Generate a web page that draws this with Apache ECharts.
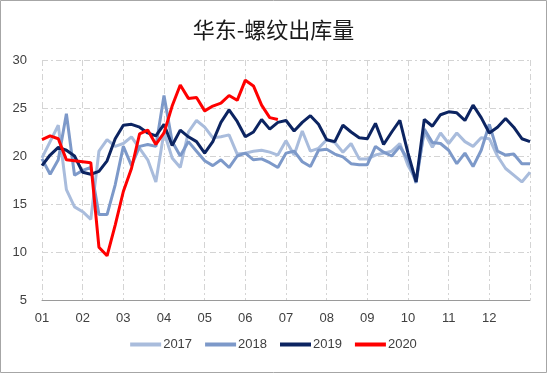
<!DOCTYPE html>
<html>
<head>
<meta charset="utf-8">
<script src="https://cdn.jsdelivr.net/npm/echarts@6/dist/echarts.min.js"></script>
<style>
html,body{margin:0;padding:0;background:#fff;}
#chart{width:547px;height:373px;}
</style>
</head>
<body>
<div id="chart"></div>
<script>
// Month tick labels
const months = ['01','02','03','04','05','06','07','08','09','10','11','12'];
// Sampling step in months for the series values below
const STEP = 0.2;
const seriesNames = ['2017','2018','2019','2020'];
const y2017 = [19.8,21.5,23.2,16.5,14.7,14.2,13.4,20.5,21.7,21.0,21.3,22.0,20.8,19.6,17.3,22.5,19.8,18.8,22.5,23.7,23.0,21.9,22.0,22.2,20.2,20.3,20.5,20.6,20.4,20.1,21.6,20.1,22.6,20.5,20.8,21.7,21.4,20.4,21.3,19.7,19.7,20.1,20.3,20.5,21.3,19.0,17.5,22.5,20.9,22.4,21.3,22.4,21.5,21.0,21.9,21.8,20.0,18.7,18.0,17.3,18.3];
const y2018 = [19.7,18.1,19.6,24.4,18.0,18.5,18.8,13.9,13.9,17.0,21.0,19.0,21.0,21.2,21.0,26.3,21.5,20.0,21.5,20.5,19.5,19.0,19.6,18.8,20.0,20.3,19.6,19.7,19.3,18.8,20.3,20.5,19.4,18.9,20.6,20.7,20.2,19.9,19.2,19.1,19.1,21.0,20.4,20.0,21.0,19.6,17.2,22.8,21.4,21.3,20.6,19.2,20.3,18.9,20.6,23.3,20.5,20.1,20.2,19.2,19.2];
const y2019 = [19.0,20.1,20.9,20.6,20.0,18.3,18.1,18.4,19.5,21.8,23.2,23.3,23.0,22.4,22.1,23.3,21.1,22.7,22.0,21.5,20.3,21.5,23.5,24.8,23.6,22.0,22.5,23.8,22.8,23.5,23.7,22.6,23.5,24.2,23.3,21.7,21.5,23.2,22.5,21.9,21.8,23.4,21.2,22.5,23.7,20.3,17.3,23.8,23.1,24.3,24.6,24.5,23.7,25.3,24.0,22.4,23.0,23.9,23.0,21.8,21.5];
const y2020 = [21.7,22.1,21.8,19.6,19.5,19.4,19.3,10.5,9.6,12.8,16.3,18.7,22.3,22.7,21.2,22.4,25.2,27.4,26.0,26.1,24.7,25.2,25.5,26.3,25.8,27.9,27.3,25.3,24.0,23.8];
const colors = ['#a9bcdc','#7d99c9','#0c2461','#ff0000'];

const toXY = arr => arr.map((v,i)=>[+(i*STEP).toFixed(3), v]);
const allData = [y2017,y2018,y2019,y2020];

const chart = echarts.init(document.getElementById('chart'), null, {renderer:'canvas'});
const gridLine = {show:true, lineStyle:{color:'#d4d4d4', width:1, type:[6,3,2,3]}};
chart.setOption({
  animation:false,
  backgroundColor:'#ffffff',
  title:{
    text:'华东-螺纹出库量', left:'center', top:14,
    textStyle:{fontFamily:'Noto Sans CJK SC', fontSize:22, fontWeight:'normal', color:'#1a1a1a'}
  },
  legend:{
    bottom:17, left:'center', itemWidth:31, itemHeight:4, itemGap:13, icon:'rect',
    textStyle:{fontFamily:'Liberation Sans', fontSize:13, color:'#404040', padding:[0,0,0,-3]},
    data:seriesNames
  },
  grid:{left:42, right:17, top:60, bottom:73},
  xAxis:{
    type:'value', min:0, max:12, interval:1,
    axisLine:{show:true, lineStyle:{color:'#9a9a9a', width:1}},
    axisTick:{show:false},
    splitLine:gridLine,
    axisLabel:{showMinLabel:true, showMaxLabel:true, margin:12, fontFamily:'Liberation Sans', fontSize:13, color:'#404040',
      formatter:v=>months[v]||''}
  },
  yAxis:{
    type:'value', min:5, max:30, interval:5,
    axisLine:{show:false}, axisTick:{show:false},
    splitLine:gridLine,
    axisLabel:{margin:15, fontFamily:'Liberation Sans', fontSize:13, color:'#404040'}
  },
  series: seriesNames.map((n,k)=>({
    name:n, type:'line', data:toXY(allData[k]), showSymbol:false, symbol:'none',
    lineStyle:{color:colors[k], width:3}, itemStyle:{color:colors[k]}, z:2+k
  })),
  graphic:[{type:'rect', silent:true, shape:{x:0.5,y:0.5,width:546,height:372},
    style:{fill:null, stroke:'#a6a6a6', lineWidth:1}}]
});
</script>
</body>
</html>
